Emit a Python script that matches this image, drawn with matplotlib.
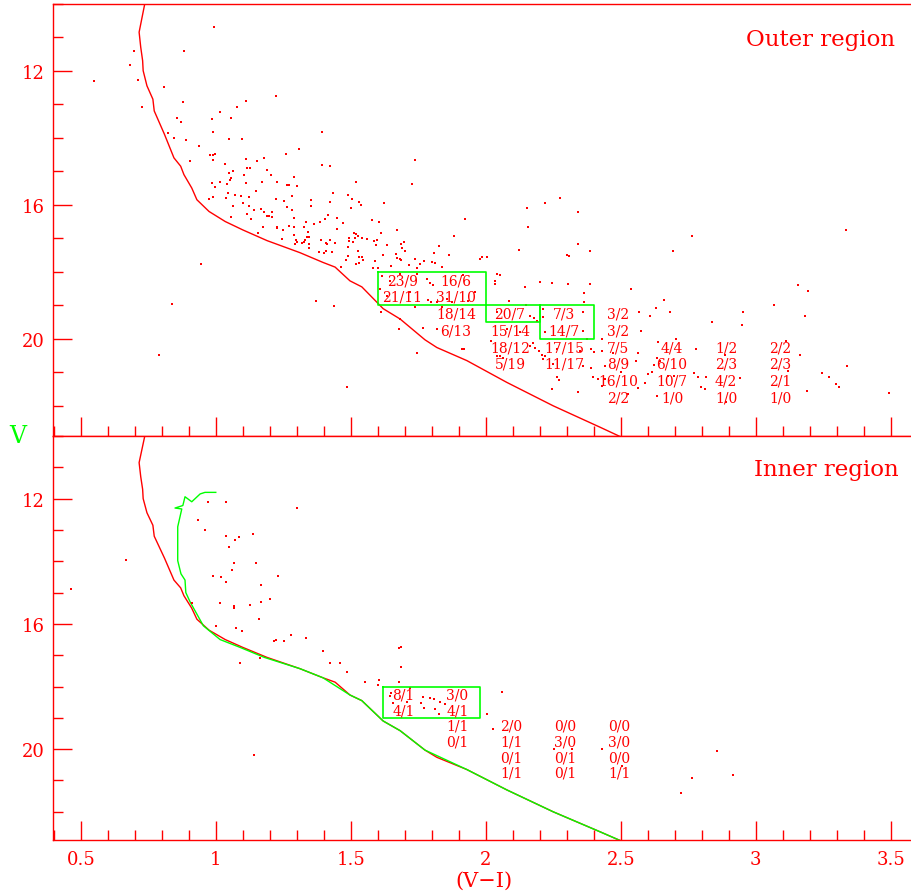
import matplotlib
matplotlib.use("Agg")
import matplotlib.pyplot as plt
from matplotlib.ticker import MultipleLocator, FixedFormatter, FixedLocator

# theoretical isochrone (V-I, V)
iso_vi = [0.745, 0.737, 0.716, 0.722, 0.729, 0.731, 0.745, 0.767, 0.772, 0.810, 0.845,
          0.870, 0.882, 0.911, 0.930, 0.975, 1.035, 1.100, 1.190, 1.312, 1.397, 1.442,
          1.497, 1.541, 1.620, 1.683, 1.775, 1.819, 1.930, 2.078, 2.250, 2.424, 2.520]
iso_v = [9.8, 10.0, 10.85, 11.3, 11.7, 12.0, 12.45, 12.85, 13.2, 13.9, 14.6,
         14.85, 15.1, 15.5, 15.85, 16.2, 16.5, 16.75, 17.07, 17.43, 17.72, 17.86,
         18.27, 18.45, 19.1, 19.41, 20.03, 20.26, 20.65, 21.3, 22.0, 22.64, 23.0]

# evolutionary track for the inner region
trk_vi = [1.000, 0.960, 0.942, 0.911, 0.886, 0.878, 0.849, 0.874, 0.859, 0.859, 0.871,
          0.886, 0.889, 0.905, 0.954, 1.016, 1.090, 1.180, 1.312, 1.397, 1.497, 1.541,
          1.620, 1.683, 1.775, 1.930, 2.078, 2.250, 2.424, 2.520]
trk_v = [11.8, 11.8, 11.85, 12.1, 11.94, 12.22, 12.3, 12.33, 12.9, 13.98, 14.4,
         14.6, 15.0, 15.3, 16.06, 16.5, 16.75, 17.07, 17.43, 17.72, 18.27, 18.45,
         19.1, 19.41, 20.03, 20.65, 21.3, 22.0, 22.64, 23.0]

# stars, outer region
outer_vi = [0.995, 0.696, 0.881, 0.684, 0.550, 0.713, 0.809, 0.880, 0.727, 1.015, 1.079,
            1.111, 1.223, 0.856, 0.873, 0.987, 1.057, 0.822, 0.844, 0.890, 0.989, 1.049,
            1.096, 0.936, 0.979, 0.990, 0.996, 0.991, 0.904, 1.034, 1.111, 1.153, 1.180,
            1.259, 1.309, 1.116, 1.127, 1.065, 1.048, 1.106, 1.189, 1.204, 1.173, 1.111,
            1.057, 1.053, 1.016, 0.987, 0.997, 1.042, 1.228, 1.263, 1.273, 1.289, 1.302,
            1.046, 1.073, 1.093, 1.150, 0.989, 0.975, 1.036, 1.065, 1.124, 1.099, 1.124,
            1.115, 1.142, 1.130, 1.180, 1.189, 1.198, 1.169, 1.209, 1.209, 1.223, 1.254,
            1.263, 1.283, 1.290, 1.284, 1.058, 1.174, 1.158, 1.226, 1.228, 1.248, 1.246,
            1.270, 1.290, 1.290, 1.297, 1.300, 1.295, 0.947, 0.837, 0.791,
            1.395, 1.395, 1.422, 1.738, 1.726, 1.518, 1.433, 1.490, 1.504, 1.502, 1.532,
            1.537, 1.622, 1.422, 1.354, 1.354, 1.415, 1.404, 1.386, 1.363, 1.336, 1.326,
            1.449, 1.470, 1.450, 1.342, 1.339, 1.345, 1.332, 1.327, 1.320, 1.344, 1.346,
            1.390, 1.407, 1.413, 1.422, 1.442, 1.381, 1.400, 1.410, 1.432, 1.464, 1.493,
            1.495, 1.511, 1.520, 1.525, 1.540, 1.515, 1.559, 1.587, 1.597, 1.592, 1.510,
            1.491, 1.528, 1.532, 1.540, 1.488, 1.484, 1.518, 1.530, 1.545, 1.581, 1.600,
            1.589, 1.619, 1.613, 1.578, 1.604, 1.633, 1.649, 1.673, 1.667, 1.670, 1.683,
            1.685, 1.685, 1.696, 1.690, 1.700, 1.715, 1.738, 1.757, 1.773, 1.744, 1.802,
            1.812, 1.810, 1.828, 1.865, 1.884, 1.837, 1.923, 1.979, 1.985, 2.006,
            2.123, 2.300, 2.310, 2.386, 1.372, 1.439, 1.485, 1.612, 1.681, 1.678, 1.744,
            1.769, 1.738, 1.839, 1.819, 1.913, 1.920, 2.041, 2.035, 2.035, 2.053, 2.087,
            2.149, 2.201, 2.247, 2.304, 2.365, 2.385, 2.365, 2.213, 2.180, 2.190, 2.021,
            2.041, 2.064, 2.176, 2.183, 2.196, 2.207, 2.220, 2.211, 2.263, 2.270, 2.247,
            2.341, 2.390, 2.400, 2.390, 2.399, 2.415, 2.430, 2.440, 2.430, 2.473,
            1.646, 1.781, 1.794, 1.806, 1.785, 1.797, 1.818, 1.856, 1.874, 1.936, 1.960,
            1.917, 1.744, 1.615, 1.683, 1.720, 1.633, 1.608,
            2.041, 2.164, 2.078, 2.127, 2.164, 2.053, 2.213, 2.361, 2.220, 2.361, 2.374,
            2.263, 2.349, 2.250, 2.361,
            2.539, 2.660, 2.631, 2.609, 2.568, 2.683, 2.574, 2.565, 2.557, 2.637, 2.704,
            2.779, 2.633, 2.645, 2.625, 2.615, 2.600, 2.590, 2.563, 2.500, 2.442, 2.430,
            2.674, 2.698, 2.773, 2.785, 2.815, 2.797, 2.812, 2.636, 2.526, 2.837, 2.952,
            2.951, 2.888, 2.943, 2.890, 3.069, 3.111, 3.164, 3.121, 3.157, 3.194, 3.183,
            3.189, 3.337, 3.247, 3.270, 3.297, 3.310, 3.493,
            2.153, 2.221, 2.275, 2.343, 2.156, 2.341, 2.763, 2.695, 3.334, 2.146]
outer_v = [10.70, 11.40, 11.40, 11.83, 12.31, 12.29, 12.49, 12.93, 13.07, 13.22, 13.09,
           12.90, 12.76, 13.40, 13.54, 13.45, 13.40, 13.87, 14.02, 14.08, 13.84, 14.03,
           14.05, 14.25, 14.51, 14.50, 14.48, 14.66, 14.70, 14.78, 14.64, 14.68, 14.60,
           14.48, 14.34, 14.91, 14.91, 14.98, 15.06, 15.11, 14.97, 15.10, 15.33, 15.34,
           15.19, 15.25, 15.33, 15.36, 15.46, 15.39, 15.32, 15.41, 15.41, 15.17, 15.45,
           15.64, 15.71, 15.73, 15.60, 15.78, 15.84, 15.81, 16.05, 15.78, 15.96, 16.04,
           16.28, 16.16, 16.43, 16.23, 16.34, 16.34, 16.12, 16.23, 16.36, 15.83, 15.90,
           16.07, 16.15, 16.38, 15.74, 16.37, 16.67, 16.85, 16.65, 16.69, 16.76, 17.01,
           16.64, 16.66, 16.90, 17.05, 17.10, 17.16, 17.77, 18.97, 20.48,
           13.83, 14.81, 14.85, 14.65, 15.38, 15.33, 15.64, 15.70, 15.83, 16.09, 15.92,
           16.00, 15.95, 15.93, 15.85, 16.05, 16.30, 16.41, 16.51, 16.57, 16.51, 16.66,
           16.39, 16.53, 16.73, 16.81, 16.95, 16.95, 17.06, 17.12, 17.15, 17.17, 17.28,
           17.04, 17.15, 17.18, 17.06, 17.15, 17.41, 17.44, 17.38, 17.41, 17.87, 16.98,
           17.07, 16.85, 16.88, 16.93, 16.99, 17.00, 17.01, 17.09, 17.05, 17.19, 17.12,
           17.26, 17.38, 17.55, 17.55, 17.52, 17.64, 17.78, 17.73, 17.64, 17.88, 17.90,
           17.67, 17.51, 16.84, 16.44, 16.51, 17.19, 17.83, 16.75, 17.48, 17.60, 17.61,
           17.64, 17.18, 17.12, 17.28, 17.39, 17.81, 17.62, 17.76, 17.69, 17.90, 17.70,
           17.75, 17.45, 17.23, 17.51, 16.93, 17.87, 16.41, 17.61, 17.57, 17.55,
           17.34, 17.49, 17.54, 17.37, 18.88, 19.01, 21.45, 19.19, 19.40, 19.71, 20.41,
           19.69, 19.06, 19.06, 19.71, 20.31, 20.30, 18.07, 18.27, 18.37, 18.10, 18.88,
           18.98, 18.29, 18.32, 18.35, 18.64, 18.35, 18.90, 19.36, 19.39, 19.46, 20.06,
           20.51, 20.56, 20.11, 20.26, 20.36, 20.47, 20.50, 20.61, 21.15, 21.24, 21.50,
           21.60, 20.31, 20.40, 20.88, 21.13, 21.21, 20.36, 20.80, 20.01, 20.41,
           18.27, 18.22, 18.32, 18.40, 18.84, 18.91, 18.90, 18.82, 18.91, 18.88, 18.61,
           18.10, 18.07, 18.12, 18.07, 18.61, 18.72, 18.52,
           19.21, 19.31, 19.71, 19.81, 20.21, 20.51, 19.11, 19.21, 19.81, 19.76, 20.01,
           20.31, 20.36, 20.76, 20.81,
           18.52, 18.85, 19.07, 19.33, 19.19, 19.21, 19.77, 20.41, 20.66, 20.09, 20.02,
           20.29, 20.57, 20.67, 20.79, 20.98, 21.06, 21.32, 21.48, 21.00, 21.20, 21.42,
           21.10, 21.10, 21.02, 21.13, 21.13, 21.45, 21.50, 21.72, 21.65, 19.49, 19.19,
           19.60, 20.49, 21.17, 21.90, 18.98, 20.06, 20.49, 20.96, 18.39, 18.58, 19.31,
           21.55, 20.81, 21.03, 21.13, 21.35, 21.45, 21.63,
           16.11, 15.94, 15.79, 16.21, 16.66, 17.16, 16.94, 17.39, 16.76, 18.44]

# stars, inner region
inner_vi = [0.464, 0.667, 0.973, 1.038, 1.302, 0.934, 0.959, 1.038, 1.072, 1.085, 1.137,
            1.050, 1.069, 1.059, 1.149, 0.989, 1.019, 1.037, 1.232, 1.167, 1.199, 1.167,
            0.911, 1.017, 1.069, 1.068, 1.128, 1.160, 1.000, 1.074, 1.098, 1.278, 1.223,
            1.215, 1.253, 1.164, 1.089, 1.142, 1.333, 1.397, 1.423, 1.459, 1.487, 1.553,
            1.606, 1.600, 1.679, 1.685, 1.686, 1.679, 1.720, 1.648, 1.644, 1.658, 1.710,
            1.769, 1.759, 1.794, 1.810, 1.772, 1.831, 1.850, 1.812, 1.828, 2.059, 2.006,
            2.026, 2.253, 2.319, 2.432, 2.503, 2.858, 2.763, 2.917, 2.724]
inner_v = [14.87, 13.95, 12.10, 12.10, 12.30, 12.67, 12.99, 13.18, 13.31, 13.22, 13.14,
           13.54, 14.04, 14.28, 14.06, 14.48, 14.50, 14.67, 14.47, 14.75, 15.21, 15.30,
           15.33, 15.34, 15.43, 15.50, 15.41, 15.83, 16.06, 16.14, 16.22, 16.35, 16.51,
           16.53, 16.54, 17.09, 17.25, 20.17, 16.45, 16.85, 17.25, 17.24, 17.54, 17.84,
           17.79, 17.95, 16.77, 16.74, 17.39, 17.86, 18.04, 18.22, 18.30, 18.52, 18.48,
           18.32, 18.52, 18.38, 18.41, 18.68, 18.48, 18.57, 18.71, 18.89, 18.16, 18.87,
           19.35, 19.98, 19.98, 20.01, 20.54, 20.06, 20.92, 20.82, 21.39]

# star counts per colour-magnitude bin (bin centre V-I, bin centre V, text)
outer_bin_vi = [1.7, 1.9, 1.7, 1.9, 1.9, 2.1, 2.3, 2.5, 1.9, 2.1, 2.3, 2.5,
                2.1, 2.3, 2.5, 2.7, 2.9, 3.1, 2.1, 2.3, 2.5, 2.7, 2.9, 3.1,
                2.5, 2.7, 2.9, 3.1, 2.5, 2.7, 2.9, 3.1]
outer_bin_v = [18.25, 18.25, 18.75, 18.75, 19.25, 19.25, 19.25, 19.25,
               19.75, 19.75, 19.75, 19.75, 20.25, 20.25, 20.25, 20.25, 20.25, 20.25,
               20.75, 20.75, 20.75, 20.75, 20.75, 20.75, 21.25, 21.25, 21.25, 21.25,
               21.75, 21.75, 21.75, 21.75]
outer_counts = ["23/9", "16/6", "21/11", "31/10", "18/14", "20/7", "7/3", "3/2",
                "6/13", "15/14", "14/7", "3/2", "18/12", "17/15", "7/5", "4/4", "1/2", "2/2",
                "5/19", "11/17", "8/9", "6/10", "2/3", "2/3", "16/10", "10/7", "4/2", "2/1",
                "2/2", "1/0", "1/0", "1/0"]

inner_bin_vi = [1.7, 1.9, 1.7, 1.9, 1.9, 2.1, 2.3, 2.5, 1.9, 2.1, 2.3, 2.5,
                2.1, 2.3, 2.5, 2.1, 2.3, 2.5]
inner_bin_v = [18.25, 18.25, 18.75, 18.75, 19.25, 19.25, 19.25, 19.25,
               19.75, 19.75, 19.75, 19.75, 20.25, 20.25, 20.25, 20.75, 20.75, 20.75]
inner_counts = ["8/1", "3/0", "4/1", "4/1", "1/1", "2/0", "0/0", "0/0",
                "0/1", "1/1", "3/0", "3/0", "0/1", "0/1", "0/0", "1/1", "0/1", "1/1"]

# selection boxes (vi0, vi1, v0, v1)
outer_boxes = [(1.6, 2.0, 18.0, 19.0), (2.0, 2.2, 19.0, 19.5), (2.2, 2.4, 19.0, 20.0)]
inner_boxes = [(1.62, 1.98, 18.0, 19.0)]

xticks = [0.5, 1.0, 1.5, 2.0, 2.5, 3.0, 3.5]
xtick_labels = ['0.5', '1', '1.5', '2', '2.5', '3', '3.5']
yticks = [12, 16, 20]

RED = '#ff0000'
GREEN = '#00ff00'
plt.rcParams['font.family'] = 'DejaVu Serif'

fig = plt.figure(figsize=(9.12, 8.95), dpi=100)
W, H = 912.0, 895.0
ax1 = fig.add_axes([53 / W, 1 - 437 / H, 1 - 53 / W, (437 - 4.7) / H])
ax2 = fig.add_axes([53 / W, 1 - 841 / H, 1 - 53 / W, (841 - 437) / H])


def setup(ax, show_x):
    ax.set_xlim(0.397, 3.579)
    ax.set_ylim(22.9, 10.0)
    for s in ax.spines.values():
        s.set_color(RED)
        s.set_linewidth(1.0)
    ax.spines['right'].set_visible(False)
    ax.xaxis.set_major_locator(FixedLocator(xticks))
    ax.xaxis.set_major_formatter(FixedFormatter(xtick_labels))
    ax.xaxis.set_minor_locator(MultipleLocator(0.1))
    ax.yaxis.set_major_locator(FixedLocator(yticks))
    ax.yaxis.set_minor_locator(MultipleLocator(1))
    ax.tick_params(which='both', direction='in', colors=RED, width=1.0,
                   top=False, right=False, labelsize=13)
    ax.tick_params(which='major', length=14)
    ax.tick_params(which='minor', length=7)
    ax.tick_params(axis='x', which='major', pad=7.5)
    ax.tick_params(axis='y', which='major', pad=6)
    if not show_x:
        ax.tick_params(labelbottom=False)


def boxes(ax, blist):
    for (a, b, c, d) in blist:
        ax.plot([a, b, b, a, a], [c, c, d, d, c], color=GREEN, lw=1.2, zorder=3)


setup(ax1, False)
ax1.plot(iso_vi, iso_v, color=RED, lw=1.0)
ax1.plot(outer_vi, outer_v, 's', color=RED, ms=1.7, mew=0, ls='none')
boxes(ax1, outer_boxes)
for x, y, t in zip(outer_bin_vi, outer_bin_v, outer_counts):
    ax1.text(x - 0.01, y, t, color=RED, fontsize=10, ha='center', va='center')
ax1.text(0.98, 0.918, 'Outer region', transform=ax1.transAxes, color=RED,
         fontsize=16.5, ha='right', va='center')

setup(ax2, True)
ax2.plot(iso_vi, iso_v, color=RED, lw=1.0)
ax2.plot(trk_vi, trk_v, color=GREEN, lw=1.0)
ax2.plot(inner_vi, inner_v, 's', color=RED, ms=1.7, mew=0, ls='none')
boxes(ax2, inner_boxes)
for x, y, t in zip(inner_bin_vi, inner_bin_v, inner_counts):
    ax2.text(x - 0.005, y, t, color=RED, fontsize=10, ha='center', va='center')
ax2.text(0.985, 0.918, 'Inner region', transform=ax2.transAxes, color=RED,
         fontsize=16.5, ha='right', va='center')

fig.text(18 / W, 1 - 437 / H, 'V', color=GREEN, fontsize=17, ha='center', va='center')
fig.text(484 / W, 1 - 881 / H, '(V\u2212I)', color=RED, fontsize=15, ha='center', va='center')

fig.savefig('out.png', dpi=100)
